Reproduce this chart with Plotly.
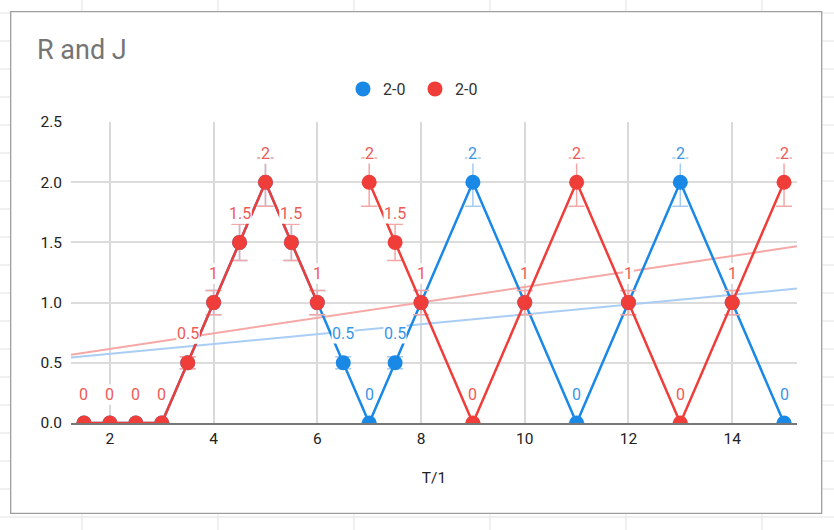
import numpy as np
import plotly.graph_objects as go

# ---------------- data ----------------
X_VALUES = [1.5, 2, 2.5, 3, 3.5, 4, 4.5, 5, 5.5, 6, 6.5, 7, 7.5, 8, 9, 10, 11, 12, 13, 14, 15]
BLUE_VALUES = [0, 0, 0, 0, 0.5, 1, 1.5, 2, 1.5, 1, 0.5, 0, 0.5, 1, 2, 1, 0, 1, 2, 1, 0]
RED_VALUES = [0, 0, 0, 0, 0.5, 1, 1.5, 2, 1.5, 1, None, 2, 1.5, 1, 0, 1, 2, 1, 0, 1, 2]
SERIES_NAMES = ["2-0", "2-0"]
X_TICKS = [2, 4, 6, 8, 10, 12, 14]
Y_TICKS = [0, 0.5, 1.0, 1.5, 2.0, 2.5]
TITLE = "R and J"
X_TITLE = "T/1"

# ---------------- style ----------------
W, H = 834, 530
PL, PR, PT, PB = 71, 797, 122, 423  # plot area in px
X_RANGE = [1.25, 15.25]
Y_RANGE = [0, 2.5]
BLUE = "#1a88e5"
RED = "#ef3e3a"
BLUE_LABEL = "#3a95e8"
RED_LABEL = "#ee5a55"
BLUE_TREND = "#a9cdf4"
RED_TREND = "#f5a8a5"
BLUE_ERR = "#a6cbf1"
RED_ERR = "#f4a7a4"
FONT = "Roboto"


def px_x(p):
    return (p - PL) / (PR - PL)


def px_y(p):
    return (PB - p) / (PB - PT)


def trend(xs, ys):
    pts = [(x, y) for x, y in zip(xs, ys) if y is not None]
    a, b = np.polyfit([p[0] for p in pts], [p[1] for p in pts], 1)
    return [X_RANGE[0], X_RANGE[1]], [a * X_RANGE[0] + b, a * X_RANGE[1] + b]


fig = go.Figure()

# trendlines
for ys, col in [(BLUE_VALUES, BLUE_TREND), (RED_VALUES, RED_TREND)]:
    tx, ty = trend(X_VALUES, ys)
    fig.add_trace(go.Scatter(x=tx, y=ty, mode="lines", line=dict(color=col, width=2),
                             showlegend=False, hoverinfo="skip"))

# series
for ys, col, ecol, name in [(BLUE_VALUES, BLUE, BLUE_ERR, SERIES_NAMES[0]),
                            (RED_VALUES, RED, RED_ERR, SERIES_NAMES[1])]:
    fig.add_trace(go.Scatter(
        x=X_VALUES, y=ys, mode="lines+markers", name=name,
        line=dict(color=col, width=2.5),
        marker=dict(color=col, size=15),
        error_y=dict(type="percent", value=10, color=ecol, thickness=1.5, width=8),
        showlegend=False, connectgaps=False,
    ))

# legend-only entries (circle symbols)
for col, name in [(BLUE, SERIES_NAMES[0]), (RED, SERIES_NAMES[1])]:
    fig.add_trace(go.Scatter(x=[None], y=[None], mode="markers", name=name,
                             marker=dict(color=col, size=15, symbol="circle"),
                             showlegend=True))

# data labels
annotations = []
for ys, col in [(BLUE_VALUES, BLUE_LABEL), (RED_VALUES, RED_LABEL)]:
    for x, y in zip(X_VALUES, ys):
        if y is None:
            continue
        annotations.append(dict(
            x=x, y=y, xref="x", yref="y", text=f"{y:g}", showarrow=False,
            yshift=29, font=dict(family=FONT, size=16, color=col),
            bgcolor="white", borderpad=0,
        ))

# sheet background grid + chart box
shapes = []
for k in range(19):
    yy = 13 + 28 * k
    shapes.append(dict(type="line", xref="paper", yref="paper",
                       x0=px_x(0), x1=px_x(W), y0=px_y(yy), y1=px_y(yy),
                       line=dict(color="#e2e2e2", width=1), layer="below"))
for k in range(6):
    xx = 82 + 136 * k
    shapes.append(dict(type="line", xref="paper", yref="paper",
                       x0=px_x(xx), x1=px_x(xx), y0=px_y(0), y1=px_y(H),
                       line=dict(color="#e2e2e2", width=1), layer="below"))
shapes.append(dict(type="rect", xref="paper", yref="paper",
                   x0=px_x(10.7), x1=px_x(821.7), y0=px_y(11.7), y1=px_y(513.3),
                   fillcolor="white", line=dict(color="#9e9e9e", width=1.3), layer="below"))

fig.update_layout(
    width=W, height=H, autosize=False,
    margin=dict(l=PL, r=W - PR, t=PT, b=H - PB, pad=0),
    paper_bgcolor="white", plot_bgcolor="rgba(0,0,0,0)",
    font=dict(family=FONT, color="#222222"),
    title=dict(text=TITLE, xref="container", yref="container",
               x=37 / W, xanchor="left", y=1 - 50 / H, yanchor="middle",
               font=dict(family=FONT, size=27, color="#757575")),
    legend=dict(orientation="h", xref="paper", yref="paper",
                x=px_x(415), xanchor="center", y=px_y(89), yanchor="middle",
                font=dict(family=FONT, size=16, color="#333333"),
                bgcolor="rgba(0,0,0,0)", entrywidth=27, entrywidthmode="pixels"),
    xaxis=dict(range=X_RANGE, tickvals=X_TICKS, ticktext=[str(t) for t in X_TICKS],
               showgrid=True, gridcolor="#d9d9d9", gridwidth=1.5,
               showline=True, linecolor="#777777", linewidth=2, zeroline=False,
               ticks="", ticklabelstandoff=0,
               tickfont=dict(family=FONT, size=15.5, color="#222222"),
               title=dict(text=X_TITLE, standoff=26,
                          font=dict(family=FONT, size=15.5, color="#222222"))),
    yaxis=dict(range=Y_RANGE, tickvals=Y_TICKS, tickformat=".1f",
               showgrid=True, gridcolor="#dcdcdc", gridwidth=1.5,
               showline=False, zeroline=False, ticks="", ticklabelstandoff=8,
               tickfont=dict(family=FONT, size=15.5, color="#222222")),
    annotations=annotations,
    shapes=shapes,
)

fig.write_html("out.html")
